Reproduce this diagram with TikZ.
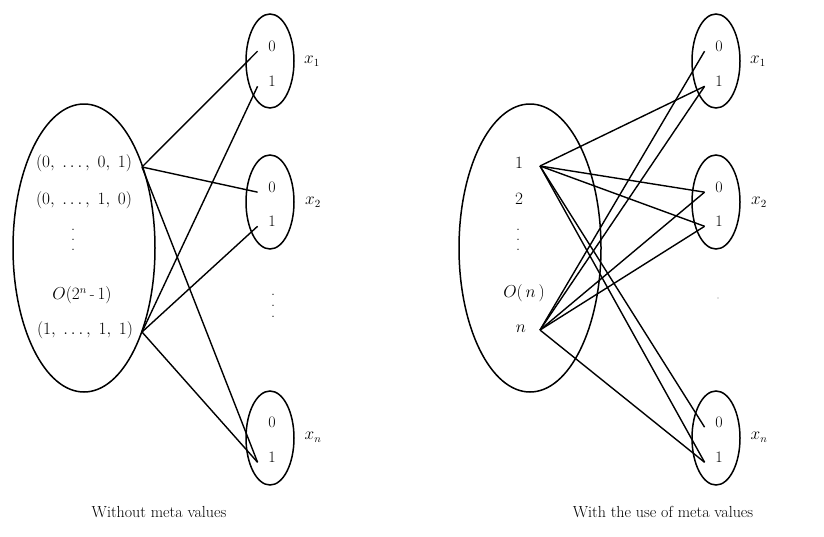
\documentclass[tikz,border=0pt]{standalone}
\usetikzlibrary{shapes.geometric}
\newcommand\myvdots[1]{\vbox{\baselineskip=#1\relax\lineskiplimit=-100pt\relax\hbox{.}\hbox{.}\hbox{.}}}
\begin{document}
\begin{tikzpicture}[x=1pt,y=-1pt,line width=1.5pt,
  every node/.style={font=\fontsize{16}{19}\selectfont},
  bigell/.style={draw,ellipse,minimum width=142pt,minimum height=288pt,inner sep=0pt},
  smallell/.style={draw,ellipse,minimum width=48pt,minimum height=94pt,inner sep=0pt},
  digit/.style={inner xsep=10pt,inner ysep=0pt},
  txt/.style={inner sep=0pt},
  varlab/.style={inner sep=0pt,font=\fontsize{16}{19}\selectfont},
  conn/.style={line width=1.4pt}]
\useasboundingbox (0,0) rectangle (824,536);

% ---------------- left diagram ----------------
\node[bigell] (L) at (84,248) {};
\node[txt] (La) at (84,163) {$(0,\ \ldots,\ 0,\ 1)$};
\node[txt] (Lb) at (84,200) {$(0,\ \ldots,\ 1,\ 0)$};
\node[txt] (Ld) at (73,240) {\myvdots{10pt}};
\node[txt] (Lo) at (82,295) {$O(2^{n}\,\mbox{-}\,1)$};
\node[txt] (Lc) at (85,330) {$(1,\ \ldots,\ 1,\ 1)$};
\coordinate (A) at (142,167);
\coordinate (B) at (142,332);

\node[smallell] (Lx1) at (270,61) {};
\node[smallell] (Lx2) at (270,202) {};
\node[smallell] (Lxn) at (270,438) {};
\node[digit] (L1z) at (272,46) {0};
\node[digit] (L1o) at (272,81) {1};
\node[digit] (L2z) at (272,187) {0};
\node[digit] (L2o) at (272,221) {1};
\node[digit] (Lnz) at (272,422) {0};
\node[digit] (Lno) at (272,457) {1};
\node[txt] (Lvd) at (273,306) {\myvdots{11pt}};
\node[varlab] (Llx1) at (312,61) {$x_1$};
\node[varlab] (Llx2) at (313,202) {$x_2$};
\node[varlab] (Llxn) at (313,437) {$x_n$};

\draw[conn] (A) -- (L1z.base west);
\draw[conn] (A) -- (L2z.base west);
\draw[conn] (A) -- (Lno.base west);
\draw[conn] (B) -- (L1o.base west);
\draw[conn] (B) -- (L2o.base west);
\draw[conn] (B) -- (Lno.base west);

\node[txt] (Lcap) at (159,512) {Without meta values};

% ---------------- right diagram ----------------
\node[bigell] (R) at (530,248) {};
\node[txt] (Ra) at (519,163) {$1$};
\node[txt] (Rb) at (519,199) {$2$};
\node[txt] (Rd) at (518,240) {\myvdots{10pt}};
\node[txt] (Ro) at (524,293) {$O(\,n\,)$};
\node[txt] (Rc) at (521,329) {$n$};
\coordinate (S1) at (540,166);
\coordinate (Sn) at (540,330);

\node[smallell] (Rx1) at (716,61) {};
\node[smallell] (Rx2) at (716,202) {};
\node[smallell] (Rxn) at (716,438) {};
\node[digit] (R1z) at (719,46) {0};
\node[digit] (R1o) at (719,81) {1};
\node[digit] (R2z) at (719,187) {0};
\node[digit] (R2o) at (719,221) {1};
\node[digit] (Rnz) at (719,422) {0};
\node[digit] (Rno) at (719,457) {1};
\fill[gray] (718,298) circle (0.7);
\node[varlab] (Rlx1) at (758,61) {$x_1$};
\node[varlab] (Rlx2) at (759,202) {$x_2$};
\node[varlab] (Rlxn) at (759,437) {$x_n$};

\draw[conn] (S1) -- (R1o.base west);
\draw[conn] (S1) -- (R2z.base west);
\draw[conn] (S1) -- (R2o.base west);
\draw[conn] (S1) -- (Rnz.base west);
\draw[conn] (S1) -- (Rno.base west);
\draw[conn] (Sn) -- (R1z.base west);
\draw[conn] (Sn) -- (R1o.base west);
\draw[conn] (Sn) -- (R2z.base west);
\draw[conn] (Sn) -- (R2o.base west);
\draw[conn] (Sn) -- (Rno.base west);

\node[txt] (Rcap) at (663,512) {With the use of meta values};
\end{tikzpicture}
\end{document}
